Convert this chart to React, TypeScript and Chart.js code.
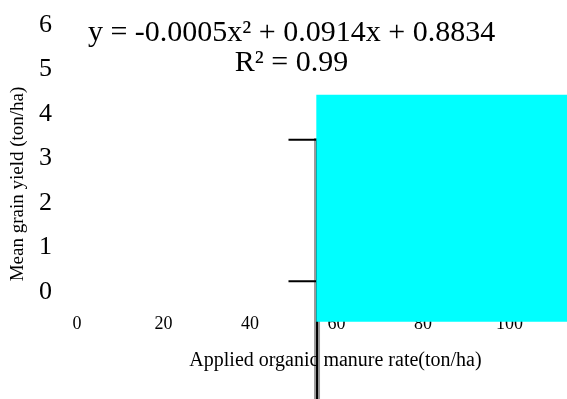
import { useEffect, useRef } from "react";
import { Chart, registerables } from "chart.js";

Chart.register(...registerables);

// ---- data ----
const xTicks = [0, 20, 40, 60, 80, 100];
const yTicks = [0, 1, 2, 3, 4, 5, 6];
const xRange = [-5.09, 113.3];
const yRange = [-1.281, 6.135];
const xAxisAt = -0.476;

// cyan block
const rectX = [55.3, 130];
const rectTop = 4.43;
const rectBottom = -0.67;

// error bar (stem + caps)
const barX = 55.5;
const shadowY = [3.46, -2.6];
const stemY = [3.42, -2.6];
const capX = [48.9, 62.1];
const capY = [3.42, 0.24];

const equation = ["y = -0.0005x² + 0.0914x + 0.8834", "R² = 0.99"];
const eqAnchorX = 49.6;
const eqAnchorY = [5.82, 5.15];

const xTitle = "Applied organic manure rate(ton/ha)";
const xTitleAnchor = [59.77, -1.55];
const yTitle = "Mean grain yield (ton/ha)";

const FAMILY = '"Liberation Serif", "Times New Roman", serif';

const textPlugin = {
  id: "chartTexts",
  afterDatasetsDraw(chart: any) {
    const { ctx, scales } = chart;
    const xs = scales.x;
    const ys = scales.y;
    ctx.save();
    ctx.fillStyle = "#000";
    ctx.textAlign = "center";
    ctx.textBaseline = "middle";
    ctx.font = `30px ${FAMILY}`;
    equation.forEach((t, i) => {
      ctx.fillText(t, xs.getPixelForValue(eqAnchorX), ys.getPixelForValue(eqAnchorY[i]));
    });
    ctx.font = `20px ${FAMILY}`;
    ctx.fillText(xTitle, xs.getPixelForValue(xTitleAnchor[0]), ys.getPixelForValue(xTitleAnchor[1]));
    ctx.restore();
  },
};

export default function App() {
  const ref = useRef<HTMLCanvasElement | null>(null);

  useEffect(() => {
    if (!ref.current) return;
    const lineBase = {
      showLine: true,
      pointRadius: 0,
      pointHoverRadius: 0,
      clip: false as any,
      fill: false,
    };
    const chart = new Chart(ref.current, {
      type: "scatter",
      data: {
        datasets: [
          {
            ...lineBase,
            label: "block",
            data: [
              { x: rectX[0], y: rectTop },
              { x: rectX[1], y: rectTop },
            ],
            borderWidth: 0,
            borderColor: "rgba(0,0,0,0)",
            backgroundColor: "#00ffff",
            fill: { value: rectBottom } as any,
            order: 0,
          },
          {
            ...lineBase,
            label: "cap1",
            data: [
              { x: capX[0], y: capY[0] },
              { x: capX[1], y: capY[0] },
            ],
            borderWidth: 2,
            borderColor: "#000",
            order: 1,
          },
          {
            ...lineBase,
            label: "cap2",
            data: [
              { x: capX[0], y: capY[1] },
              { x: capX[1], y: capY[1] },
            ],
            borderWidth: 2,
            borderColor: "#000",
            order: 1,
          },
          {
            ...lineBase,
            label: "stem",
            data: [
              { x: barX, y: stemY[0] },
              { x: barX, y: stemY[1] },
            ],
            borderWidth: 2,
            borderColor: "#000",
            order: 2,
          },
          {
            ...lineBase,
            label: "shadow",
            data: [
              { x: barX, y: shadowY[0] },
              { x: barX, y: shadowY[1] },
            ],
            borderWidth: 6,
            borderColor: "#9a9a9a",
            order: 3,
          },
        ],
      },
      options: {
        responsive: false,
        animation: false,
        devicePixelRatio: 1,
        events: [],
        layout: { padding: { top: 19, bottom: 50, left: 0, right: 0 } },
        plugins: {
          legend: { display: false },
          tooltip: { enabled: false },
        },
        scales: {
          x: {
            type: "linear",
            min: xRange[0],
            max: xRange[1],
            position: { y: xAxisAt } as any,
            grid: { display: false, drawTicks: false },
            border: { display: false },
            afterBuildTicks: (s: any) => {
              s.ticks = xTicks.map((v) => ({ value: v }));
            },
            ticks: {
              font: { family: FAMILY, size: 18 },
              color: "#000",
              padding: 0,
              maxRotation: 0,
              autoSkip: false,
            },
            title: { display: false },
          },
          y: {
            type: "linear",
            min: yRange[0],
            max: yRange[1],
            position: "left",
            grid: { display: false, drawTicks: false },
            border: { display: false },
            afterBuildTicks: (s: any) => {
              s.ticks = yTicks.map((v) => ({ value: v }));
            },
            afterFit: (s: any) => {
              s.width = 55;
            },
            ticks: {
              font: { family: FAMILY, size: 26 },
              color: "#000",
              padding: 3,
            },
            title: {
              display: true,
              text: yTitle,
              font: { family: FAMILY, size: 19 },
              color: "#000",
              padding: { top: 7, bottom: 0 },
            },
          },
        },
      },
      plugins: [textPlugin],
    });
    return () => chart.destroy();
  }, []);

  return (
    <canvas
      ref={ref}
      width={567}
      height={399}
      style={{ position: "fixed", left: 0, top: 0, width: 567, height: 399, display: "block" }}
    />
  );
}
